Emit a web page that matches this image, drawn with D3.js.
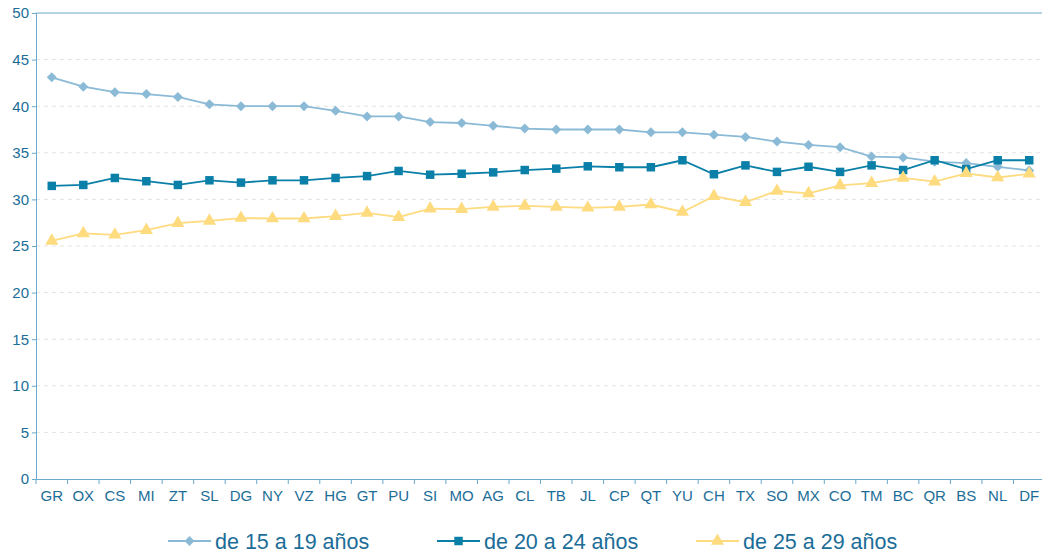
<!DOCTYPE html>
<html>
<head>
<meta charset="utf-8">
<script src="https://cdn.jsdelivr.net/npm/d3@7"></script>
<style>
  body { margin: 0; background: #fff; }
  svg { font-family: "Liberation Sans", Arial, sans-serif; }
</style>
</head>
<body>
<div id="chart"></div>
<script>
// estados (abreviaturas) en el orden del eje x
const estados = ["GR","OX","CS","MI","ZT","SL","DG","NY","VZ","HG","GT","PU","SI","MO","AG","CL",
                 "TB","JL","CP","QT","YU","CH","TX","SO","MX","CO","TM","BC","QR","BS","NL","DF"];

const edad15a19 = [43.1,42.1,41.5,41.3,41.0,40.2,40.0,40.0,40.0,39.5,38.9,38.9,38.3,38.2,37.9,37.6,
                   37.5,37.5,37.5,37.2,37.2,36.95,36.7,36.2,35.85,35.6,34.6,34.5,34.05,33.9,33.5,33.1];
const edad20a24 = [31.45,31.55,32.3,31.95,31.55,32.05,31.8,32.05,32.05,32.3,32.5,33.05,32.65,32.75,32.9,33.15,
                   33.3,33.55,33.45,33.45,34.2,32.7,33.65,32.95,33.5,32.95,33.65,33.15,34.2,33.25,34.2,34.2];
const edad25a29 = [25.55,26.35,26.2,26.7,27.45,27.7,28.0,27.95,27.95,28.2,28.55,28.1,29.0,28.95,29.2,29.3,
                   29.2,29.1,29.2,29.45,28.65,30.35,29.7,30.9,30.65,31.5,31.75,32.3,31.9,32.8,32.35,32.75];

const yTicks = [0,5,10,15,20,25,30,35,40,45,50];
const nombres = ["de 15 a 19 años","de 20 a 24 años","de 25 a 29 años"];

const width = 1042, height = 555;
const margin = {left: 36, top: 13, bottom: 76};
const plotRight = 1045; // el área del gráfico se sale un poco del borde derecho

const svg = d3.select("#chart").append("svg")
  .attr("width", width)
  .attr("height", height);

const x = d3.scaleBand()
  .domain(estados)
  .range([margin.left, plotRight]);

const y = d3.scaleLinear()
  .domain([0, 50])
  .range([height - margin.bottom, margin.top]);

const axisColor = "#69a9cc";
const textColor = "#1b6d98";

// grid lines punteadas
svg.append("g")
  .selectAll("line")
  .data(yTicks.filter(d => d > 0 && d < 50))
  .enter().append("line")
    .attr("x1", margin.left).attr("x2", plotRight)
    .attr("y1", d => y(d)).attr("y2", d => y(d))
    .attr("stroke", "#e3e3e3")
    .attr("stroke-dasharray", "4,4");

// borde superior
svg.append("line")
  .attr("x1", margin.left).attr("x2", plotRight)
  .attr("y1", y(50)).attr("y2", y(50))
  .attr("stroke", axisColor);

// eje y
const yAxis = svg.append("g")
  .attr("transform", `translate(${margin.left},0)`)
  .call(d3.axisLeft(y).tickValues(yTicks).tickSize(4).tickPadding(3));
yAxis.selectAll("text").attr("fill", textColor).attr("font-size", "15px");

// eje x
const xAxis = svg.append("g")
  .attr("transform", `translate(0,${y(0)})`)
  .call(d3.axisBottom(x).tickSize(0).tickPadding(11));
xAxis.selectAll("text").attr("fill", textColor).attr("font-size", "15px");
// marcas entre categorias
xAxis.selectAll(".sep")
  .data(estados)
  .enter().append("line")
    .attr("class", "sep")
    .attr("x1", d => x(d)).attr("x2", d => x(d))
    .attr("y1", 0).attr("y2", 5)
    .attr("stroke", axisColor);

svg.selectAll(".domain").attr("stroke", axisColor);
svg.selectAll(".tick line").attr("stroke", axisColor);

const series = [
  {name: nombres[0], values: edad15a19, color: "#8bbad6", symbol: d3.symbolSquare, size: 50, rot: 45},
  {name: nombres[1], values: edad20a24, color: "#0a7fa8", symbol: d3.symbolSquare, size: 72, rot: 0},
  {name: nombres[2], values: edad25a29, color: "#fedb7f", symbol: d3.symbolTriangle, size: 75, rot: 0}
];

const line = d3.line()
  .x((d, i) => x(estados[i]) + x.bandwidth() / 2)
  .y(d => y(d));

series.forEach(s => {
  svg.append("path")
    .datum(s.values)
    .attr("fill", "none")
    .attr("stroke", s.color)
    .attr("stroke-width", 1.8)
    .attr("d", line);

  svg.append("g").selectAll("path")
    .data(s.values)
    .enter().append("path")
      .attr("transform", (d, i) => `translate(${x(estados[i]) + x.bandwidth() / 2},${y(d)}) rotate(${s.rot})`)
      .attr("d", d3.symbol().type(s.symbol).size(s.size))
      .attr("fill", s.color);
});

// leyenda
const legendX = [168, 437, 696];
series.forEach((s, i) => {
  const g = svg.append("g").attr("transform", `translate(${legendX[i]},541)`);
  g.append("line")
    .attr("x1", 0).attr("x2", 43)
    .attr("stroke", s.color).attr("stroke-width", 2);
  g.append("path")
    .attr("transform", `translate(21.5,0) rotate(${s.rot})`)
    .attr("d", d3.symbol().type(s.symbol).size(s.size))
    .attr("fill", s.color);
  g.append("text")
    .attr("x", 47).attr("y", 7.5)
    .attr("fill", textColor)
    .attr("font-size", "21.5px")
    .text(s.name);
});
</script>
</body>
</html>
